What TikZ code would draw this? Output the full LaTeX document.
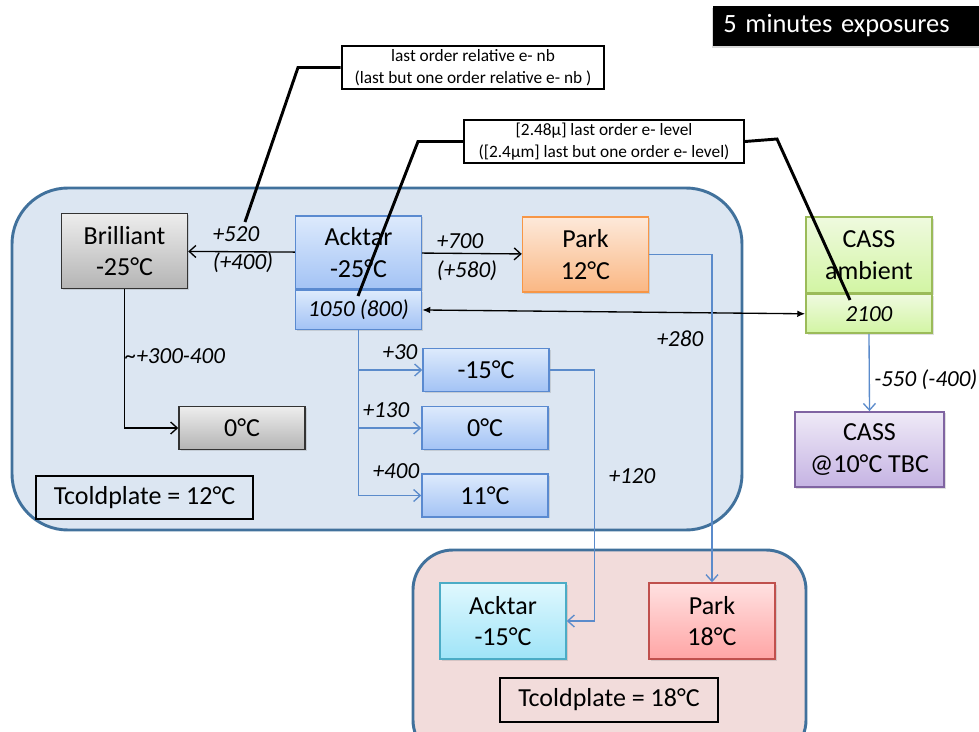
\documentclass[tikz,border=0pt]{standalone}
\usepackage{fontspec}
\setmainfont{Carlito}
\usepackage{tikz}
\usetikzlibrary{positioning,shadows,arrows.meta}

\definecolor{panelblue}{HTML}{DCE6F2}
\definecolor{panelpink}{HTML}{F2DCDB}
\definecolor{paneledge}{HTML}{41719C}
\definecolor{linkblue}{HTML}{5B8BCB}
\definecolor{grayA}{HTML}{EDEDED}\definecolor{grayB}{HTML}{B4B4B4}
\definecolor{blueA}{HTML}{DDEAFC}\definecolor{blueB}{HTML}{A3C3F5}\definecolor{blueE}{HTML}{5A8AD0}
\definecolor{orangeA}{HTML}{FDE9DA}\definecolor{orangeB}{HTML}{FAB783}\definecolor{orangeE}{HTML}{F79646}
\definecolor{greenA}{HTML}{EFFADF}\definecolor{greenB}{HTML}{D2F5A3}\definecolor{greenE}{HTML}{9BBB59}
\definecolor{purpleA}{HTML}{EFEAF7}\definecolor{purpleB}{HTML}{C5B3E3}\definecolor{purpleE}{HTML}{8064A2}
\definecolor{cyanA}{HTML}{E0F8FE}\definecolor{cyanB}{HTML}{9FE4F8}\definecolor{cyanE}{HTML}{4BACC6}
\definecolor{redA}{HTML}{FFE1E1}\definecolor{redB}{HTML}{FFA5A5}\definecolor{redE}{HTML}{C0504D}

\begin{document}
\begin{tikzpicture}[x=0.75pt, y=-0.75pt, line join=miter,
  main/.style = {draw, line width=1.1pt, align=center, inner sep=1pt,
    minimum width=94.5pt, minimum height=56.5pt,
    font=\fontsize{19.5}{23.5}\selectfont,
    drop shadow={shadow xshift=1.2pt, shadow yshift=-1.2pt, opacity=0.25}},
  small/.style = {main, minimum height=32pt},
  sub/.style = {main, minimum height=29pt, font=\fontsize{17.25}{20}\selectfont\itshape},
  graybox/.style = {top color=grayA, bottom color=grayB, draw=black!80},
  bluebox/.style = {top color=blueA, bottom color=blueB, draw=blueE},
  orangebox/.style = {top color=orangeA, bottom color=orangeB, draw=orangeE},
  greenbox/.style = {top color=greenA, bottom color=greenB, draw=greenE},
  purplebox/.style = {top color=purpleA, bottom color=purpleB, draw=purpleE},
  cyanbox/.style = {top color=cyanA, bottom color=cyanB, draw=cyanE},
  redbox/.style = {top color=redA, bottom color=redB, draw=redE},
  plate/.style = {draw, line width=1.5pt, minimum width=163pt, minimum height=32.5pt,
    font=\fontsize{19.5}{23.5}\selectfont},
  callout/.style = {draw, fill=white, line width=1.5pt, align=center, minimum width=197pt,
    minimum height=32pt, inner sep=1pt, font=\fontsize{13}{16.5}\selectfont},
  lbl/.style = {inner sep=0pt, font=\fontsize{17.25}{20}\selectfont\itshape},
  kline/.style = {draw=black, line width=1pt, -{Straight Barb[length=5pt,width=9pt]}},
  bline/.style = {draw=linkblue, line width=1pt, -{Straight Barb[length=5pt,width=9pt]}},
  dline/.style = {draw=black, line width=1pt, {Latex[length=6pt,width=5pt]}-{Latex[length=6pt,width=5pt]}},
  leader/.style = {draw=black, line width=2.2pt}]

\useasboundingbox (0,0) rectangle (979,732);

% panels
\draw[fill=panelblue, draw=paneledge, line width=2.2pt, rounded corners=42pt] (12,188) rectangle (742,530);
\draw[fill=panelpink, draw=paneledge, line width=2.2pt, rounded corners=30pt] (413,550) rectangle (806,760);

% title
\node[fill=black, text=white, anchor=west, text width=190pt, inner xsep=7.5pt, minimum height=30pt,
  font=\fontsize{19.8}{24}\selectfont,
  drop shadow={shadow xshift=-1pt, shadow yshift=-1.5pt, opacity=0.3}] (title) at (713,26) {5 minutes exposures};

% cold side
\node[main, graybox] (brill) at (124.5,251) {Brilliant\\-25°C};
\node[small, graybox] (gray0) at (242,428) {0°C};
\node[main, bluebox, minimum height=55pt] (ackt) at (358.5,252.5) {Acktar\\-25°C};
\node[sub, bluebox] (ackts) [below=0pt of ackt] {1050 (800)};
\node[main, orangebox] (park) at (585.5,254.5) {Park\\12°C};
\node[small, bluebox] (m15) at (486,370) {-15°C};
\node[small, bluebox] (b0) at (485,428) {0°C};
\node[small, bluebox] (b11) at (485,495.5) {11°C};
\node[plate] (tc12) at (144.5,497.5) {Tcoldplate = 12°C};

% ambient
\node[main, greenbox, minimum height=57pt] (cass) at (869,255) {CASS\\ambient};
\node[sub, greenbox] (cassn) [below=0pt of cass] {2100};
\node[main, purplebox, minimum width=112pt] (cass10) at (869.5,449.5) {CASS\\@10°C TBC};

% warm side
\node[main, cyanbox, minimum height=57pt] (ackt15) at (503,621) {Acktar\\-15°C};
\node[main, redbox, minimum height=57pt] (park18) at (712,621) {Park\\18°C};
\node[plate] (tc18) at (609,700) {Tcoldplate = 18°C};

% callouts
\node[callout] (call1) at (473,67.5) {last order relative e- nb\\(last but one order relative e- nb )};
\node[callout, minimum width=210pt] (call2) at (604,141.5) {[2.48µ] last order e- level\\([2.4µm] last but one order e- level)};
\coordinate (c1end) at (245,222);
\coordinate (c2end) at (358,296);
\coordinate (c3end) at (850,300);
\draw[leader] (call1.west) -- (298,67.5) -- (c1end);
\draw[leader] (call2.west) -- (418,141.5) -- (c2end);
\draw[leader] (call2.east) -- (777,139) -- (c3end);

% links
\draw[kline] (ackt) -- (brill);
\draw[kline] (ackt) -- (park);
\draw[kline] (brill.south) |- (gray0.west);
\draw[dline] (ackts.east) -- (cassn.west);
\draw[bline] (ackts.south) |- (m15.west);
\draw[bline] (ackts.south) |- (b0.west);
\draw[bline] (ackts.south) |- (b11.west);
\draw[bline] (park.east) -| (park18.north);
\draw[bline] (m15.east) -- ++(45,0) |- (ackt15.east);
\draw[bline] (cassn.south) -- (cass10.north);

% values
\node[lbl] (l520) at (236,234) {+520};
\node[lbl] (l400) at (243,263) {(+400)};
\node[lbl] (l700) at (460,241) {+700};
\node[lbl] (l580) at (467,271) {(+580)};
\node[lbl] (l300) at (175,356) {\textasciitilde+300-400};
\node[lbl] (l30) at (400,352) {+30};
\node[lbl] (l130) at (386,410) {+130};
\node[lbl] (l400b) at (396,471) {+400};
\node[lbl] (l280) at (680,339) {+280};
\node[lbl] (l120) at (632,476) {+120};
\node[lbl, anchor=west] (l550) at (874,380) {-550 (-400)};
\end{tikzpicture}
\end{document}
